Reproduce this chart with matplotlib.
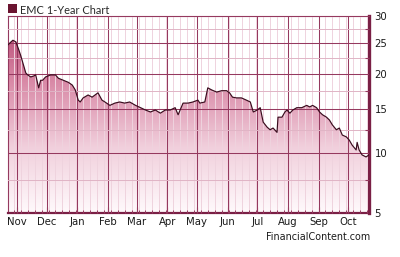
import matplotlib
matplotlib.use('Agg')
import matplotlib.pyplot as plt
import matplotlib.dates as mdates
from matplotlib.colors import LinearSegmentedColormap
from matplotlib.patches import Rectangle
import numpy as np
import pandas as pd

# ---- data ----
dates = ["2007-10-23", "2007-10-26", "2007-10-28", "2007-10-31", "2007-11-03", "2007-11-05",
         "2007-11-07", "2007-11-10", "2007-11-12", "2007-11-15", "2007-11-18", "2007-11-20",
         "2007-11-23", "2007-11-25", "2007-11-27", "2007-11-30", "2007-12-05", "2007-12-10",
         "2007-12-13", "2007-12-18", "2007-12-23", "2007-12-27", "2007-12-30", "2008-01-02",
         "2008-01-04", "2008-01-07", "2008-01-12", "2008-01-16", "2008-01-19", "2008-01-22",
         "2008-01-26", "2008-01-29", "2008-02-03", "2008-02-08", "2008-02-13", "2008-02-18",
         "2008-02-23", "2008-02-29", "2008-03-05", "2008-03-10", "2008-03-15", "2008-03-20",
         "2008-03-25", "2008-03-30", "2008-04-04", "2008-04-09", "2008-04-12", "2008-04-17",
         "2008-04-22", "2008-04-27", "2008-05-02", "2008-05-04", "2008-05-09", "2008-05-12",
         "2008-05-16", "2008-05-21", "2008-05-26", "2008-05-31", "2008-06-03", "2008-06-06",
         "2008-06-10", "2008-06-15", "2008-06-20", "2008-06-24", "2008-06-27", "2008-07-01",
         "2008-07-04", "2008-07-07", "2008-07-11", "2008-07-14", "2008-07-17", "2008-07-21",
         "2008-07-22", "2008-07-26", "2008-07-29", "2008-07-31", "2008-08-03", "2008-08-06",
         "2008-08-10", "2008-08-15", "2008-08-20", "2008-08-23", "2008-08-26", "2008-08-30",
         "2008-09-02", "2008-09-05", "2008-09-09", "2008-09-12", "2008-09-15", "2008-09-19",
         "2008-09-22", "2008-09-25", "2008-09-29", "2008-10-02", "2008-10-05", "2008-10-09",
         "2008-10-10", "2008-10-12", "2008-10-15", "2008-10-19", "2008-10-22"]
prices = [24.7, 25.2, 25.5, 25.2, 23.8, 22.8,
          21.7, 20.1, 19.8, 19.5, 19.65, 19.8,
          17.9, 19.0, 19.0, 19.5, 19.8, 19.8,
          19.3, 19.0, 18.7, 18.3, 17.6, 16.2,
          15.95, 16.5, 16.9, 16.6, 16.9, 17.2,
          16.2, 15.95, 15.5, 15.8, 15.95, 15.8,
          15.95, 15.5, 15.2, 14.9, 14.65, 14.9,
          14.5, 14.9, 14.9, 15.2, 14.3, 15.8,
          15.8, 15.95, 16.2, 15.8, 15.95, 17.9,
          17.6, 17.3, 17.5, 17.5, 17.2, 16.6,
          16.5, 16.5, 16.2, 15.95, 14.65, 14.9,
          15.2, 13.4, 12.8, 12.5, 12.7, 12.2,
          14.0, 14.0, 14.65, 14.9, 14.5, 14.9,
          15.2, 15.2, 15.5, 15.3, 15.5, 15.2,
          14.65, 14.3, 14.0, 13.65, 13.06, 12.5,
          12.7, 11.9, 11.7, 11.35, 10.8, 10.3,
          11.1, 10.3, 9.8, 9.6, 9.8]
y_major = [5, 10, 15, 20, 25, 30]
y_minor = [7.5, 12.5, 17.5, 22.5, 27.5]
x_start, x_end = "2007-10-23", "2008-10-22"
title = "EMC 1-Year Chart"
source = "FinancialContent.com"

d = pd.to_datetime(dates)
W, H = 400, 257
fig = plt.figure(figsize=(W / 100, H / 100), dpi=100)
fig.patch.set_facecolor('white')
ax = fig.add_axes([8 / W, 1 - 213 / H, (369 - 8) / W, (213 - 16) / H])

def fwd(v):
    return np.power(np.clip(v, 1e-9, None), 0.4)

def inv(v):
    return np.power(np.clip(v, 1e-9, None), 2.5)

ax.set_yscale('function', functions=(fwd, inv))
ax.set_xlim(pd.Timestamp(x_start), pd.Timestamp(x_end))
ax.set_ylim(y_major[0], y_major[-1])

maroon = '#95395f'
light = '#efd3de'

# gradient fill clipped to the area below the price line
poly = ax.fill_between(d, prices, y_major[0], facecolor='none', edgecolor='none')
cmap = LinearSegmentedColormap.from_list('g', ['#b23f6b', '#d98aa7', '#f1cfdc', '#fffafc'])
grad = np.linspace(0, 1, 256).reshape(-1, 1)
im = ax.imshow(grad, cmap=cmap, aspect='auto', extent=(0, 1, 0, 1),
               transform=ax.transAxes, origin='upper', zorder=1, interpolation='bilinear')
im.set_clip_path(poly.get_paths()[0], transform=ax.transData)
ax.set_xlim(pd.Timestamp(x_start), pd.Timestamp(x_end))
ax.set_ylim(y_major[0], y_major[-1])

ax.plot(d, prices, color='#3a0c1e', lw=0.85, zorder=4)

# axes / grid
ax.set_axisbelow(False)
ax.xaxis.set_major_locator(mdates.MonthLocator())
ax.xaxis.set_major_formatter(mdates.DateFormatter('%b'))
ax.xaxis.set_minor_locator(mdates.WeekdayLocator(byweekday=mdates.MO))
ax.yaxis.set_major_locator(matplotlib.ticker.FixedLocator(y_major))
ax.yaxis.set_minor_locator(matplotlib.ticker.FixedLocator(y_minor))
ax.yaxis.set_major_formatter(matplotlib.ticker.FixedFormatter([str(v) for v in y_major]))
ax.yaxis.set_minor_formatter(matplotlib.ticker.NullFormatter())
ax.yaxis.tick_right()

ax.grid(which='major', color=maroon, lw=0.75)
ax.grid(which='minor', axis='x', color=light, lw=0.7)
ax.grid(which='minor', axis='y', color='#e0b4c5', lw=0.7)

ax.tick_params(axis='x', which='major', direction='in', length=4, width=0.8, color=maroon,
               labelsize=7.3, pad=3, labelcolor='#1a1a1a')
ax.tick_params(axis='x', which='minor', direction='in', length=2.5, width=0.7, color=maroon)
ax.tick_params(axis='y', which='major', direction='in', length=0, labelsize=7.3, pad=4,
               labelcolor='#1a1a1a')
ax.tick_params(axis='y', which='minor', direction='in', length=3, width=0.8, color=maroon)

for s in ['left', 'top']:
    ax.spines[s].set_color(maroon)
    ax.spines[s].set_linewidth(0.8)
ax.spines['bottom'].set_color('#7a1f45')
ax.spines['bottom'].set_linewidth(1.6)
ax.spines['right'].set_color('#7a1f45')
ax.spines['right'].set_linewidth(2.4)

# title with square marker
fig.patches.append(Rectangle((8 / W, 1 - 13 / H), 9 / W, 9 / H, transform=fig.transFigure,
                             facecolor='#6a1430', edgecolor='none'))
fig.text(20 / W, 1 - 13.5 / H, title, fontsize=7.9, family='Lato', color='#2a2a2a',
         va='baseline', ha='left')
fig.text(370 / W, 1 - 237 / H, source, fontsize=6.9, color='#1a1a1a', va='center', ha='right')

fig.savefig('out.png', dpi=100, facecolor='white')
